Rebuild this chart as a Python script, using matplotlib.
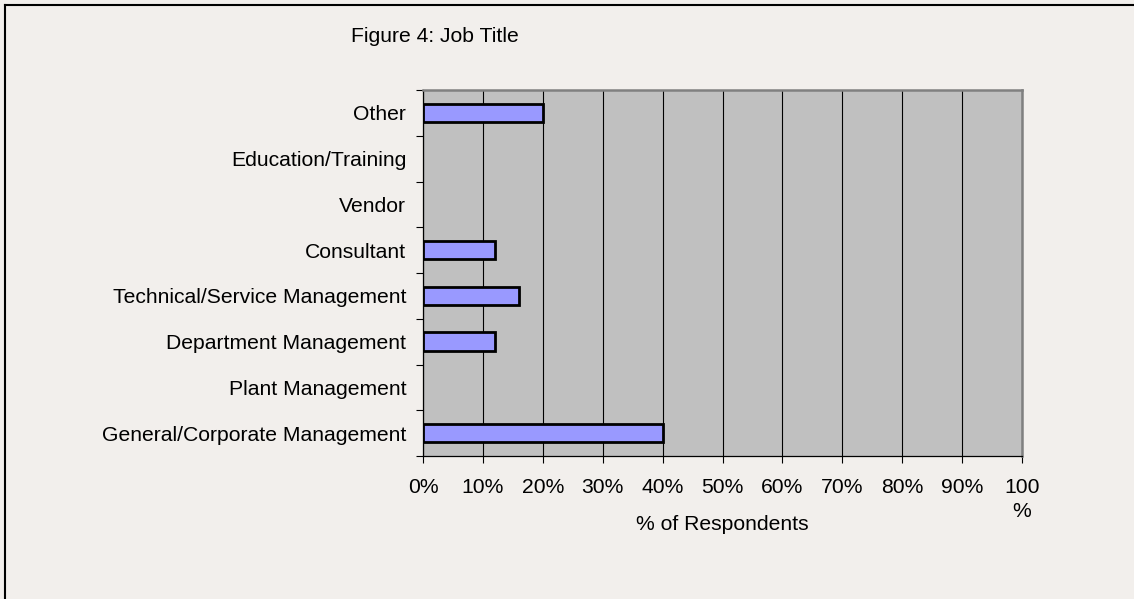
import matplotlib
matplotlib.use('Agg')
import matplotlib.pyplot as plt
from matplotlib.lines import Line2D
import numpy as np

# Job title breakdown, bottom to top as drawn
categories = ['General/Corporate Management', 'Plant Management',
              'Department Management', 'Technical/Service Management',
              'Consultant', 'Vendor', 'Education/Training', 'Other']
percent = [40, 0, 12, 16, 12, 0, 0, 20]
x_ticks = [0, 10, 20, 30, 40, 50, 60, 70, 80, 90, 100]
x_labels = ['0%', '10%', '20%', '30%', '40%', '50%', '60%', '70%', '80%', '90%', '100\n%']

plt.rcParams['font.family'] = ['Liberation Sans', 'DejaVu Sans']
fs = 15.2

W, H = 1134, 599
fig = plt.figure(figsize=(W / 100, H / 100), dpi=100)
fig.patch.set_facecolor('#f2efec')

ax = fig.add_axes([423 / W, 1 - 456 / H, (1022 - 423) / W, (456 - 90) / H])
ax.set_facecolor('#c0c0c0')

y = np.arange(len(categories))
lw = [2.0 if v > 0 else 0 for v in percent]
ax.barh(y, percent, height=0.4, color='#9999ff', edgecolor='black', linewidth=lw, zorder=3)

ax.set_xlim(0, 100)
ax.set_ylim(-0.5, len(categories) - 0.5)

# vertical gridlines
ax.set_xticks(x_ticks)
ax.set_xticklabels(x_labels, fontsize=fs, va='top', linespacing=1.35)
ax.grid(axis='x', color='black', linewidth=0.8, zorder=1)
ax.set_axisbelow(True)

# category labels centred, ticks on category boundaries
ax.set_yticks(y)
ax.set_yticklabels(categories, fontsize=fs)
ax.set_yticks(np.arange(len(categories) + 1) - 0.5, minor=True)
ax.tick_params(axis='y', which='major', length=0, pad=12)
ax.tick_params(axis='y', which='minor', length=5, width=0.8, direction='out')
ax.tick_params(axis='x', length=5, width=0.8, direction='out', pad=10.5)

for s in ['top', 'right']:
    ax.spines[s].set_color('#808080')
    ax.spines[s].set_linewidth(1.8)
for s in ['left', 'bottom']:
    ax.spines[s].set_color('black')
    ax.spines[s].set_linewidth(0.9)

fig.text(351 / W, 1 - 36 / H, 'Figure 4: Job Title', fontsize=fs, ha='left', va='center')
fig.text(722 / W, 1 - 524 / H, '% of Respondents', fontsize=fs, ha='center', va='center')

# outer chart frame (left and top edges in view)
fig.add_artist(Line2D([4.5 / W, 4.5 / W], [0, 1 - 4.5 / H], color='black', linewidth=1.5))
fig.add_artist(Line2D([4.5 / W, 1], [1 - 4.5 / H, 1 - 4.5 / H], color='black', linewidth=1.5))

fig.savefig('out.png', dpi=100, facecolor=fig.get_facecolor())
